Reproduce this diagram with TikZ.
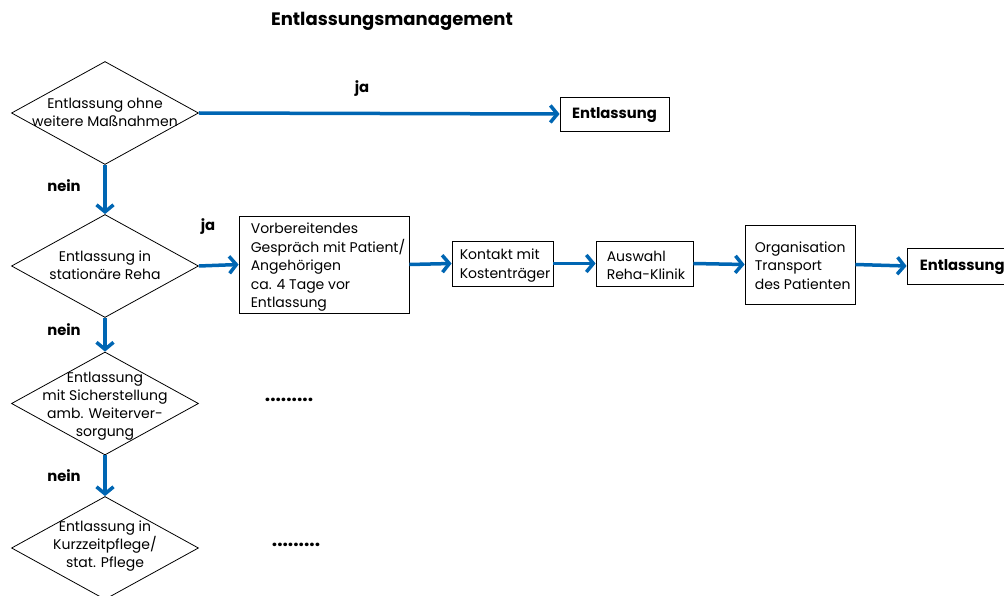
\documentclass[tikz,border=0pt]{standalone}
\usepackage{fontspec}
\setmainfont{Poppins}
\usetikzlibrary{shapes.geometric,arrows.meta}
\definecolor{flowblue}{RGB}{0,102,179}
\begin{document}
\begin{tikzpicture}[x=1pt,y=-1pt,
  dia/.style={draw, shape=diamond, minimum width=187pt, minimum height=103pt, inner sep=0pt, line width=0.8pt},
  dtxt/.style={align=center, font=\fontsize{14}{18}\selectfont, inner sep=0pt},
  boxx/.style={draw, line width=0.8pt, inner sep=0pt},
  btxt/.style={align=left, anchor=west, font=\fontsize{14}{18.5}\selectfont, inner sep=0pt},
  bold/.style={font=\bfseries\fontsize{14.8}{16}\selectfont, inner sep=0pt},
  flow/.style={draw=flowblue, line width=3.5pt, -{Straight Barb[length=7pt,width=17pt]}}]
\useasboundingbox (0,0) rectangle (1004,596);
\clip (0,0) rectangle (1004,596);
% title
\node[font=\bfseries\fontsize{18}{20}\selectfont] (title) at (392,21) {Entlassungsmanagement};
% diamonds
\node[dia] (d1) at (105,113) {};
\node[dtxt] (t1) at (105,112.5) {Entlassung ohne\\weitere Maßnahmen};
\node[dia] (d2) at (105,266) {};
\node[dtxt] (t2) at (105,265.5) {Entlassung in\\stationäre Reha};
\node[dia] (d3) at (105,403.5) {};
\node[dtxt] (t3) at (105,406) {Entlassung\\mit Sicherstellung\\amb. Weiterver-\\sorgung};
\node[dia] (d4) at (105,548) {};
\node[dtxt] (t4) at (105,546.5) {Entlassung in\\Kurzzeitpflege/\\stat. Pflege};
% top row
\node[boxx, minimum width=109pt, minimum height=34pt] (e1) at (614.5,114) {};
\node[bold] (e1t) at (614.5,115.5) {Entlassung};
% second row boxes
\node[boxx, minimum width=170pt, minimum height=97pt] (b1) at (324,264.5) {};
\node[btxt] (b1t) at ([xshift=12pt,yshift=-3pt]b1.west) {Vorbereitendes\\Gespräch mit Patient/\\Angehörigen\\ca. 4 Tage vor\\Entlassung};
\node[boxx, minimum width=101pt, minimum height=45pt] (b2) at (502.5,263.5) {};
\node[btxt] (b2t) at ([xshift=8pt,yshift=-2pt]b2.west) {Kontakt mit\\Kostenträger};
\node[boxx, minimum width=97pt, minimum height=45pt] (b3) at (644.5,263.5) {};
\node[btxt] (b3t) at ([xshift=11pt,yshift=-2pt]b3.west) {Auswahl\\Reha-Klinik};
\node[boxx, minimum width=110pt, minimum height=79pt] (b4) at (800,264.5) {};
\node[btxt] (b4t) at ([xshift=10pt,yshift=-1pt]b4.west) {Organisation\\Transport\\des Patienten};
\node[boxx, minimum width=110pt, minimum height=36pt] (b5) at (962,266) {};
\node[bold, anchor=west] (b5t) at ([xshift=13pt,yshift=-1.5pt]b5.west) {Entlassung};
% labels
\node[bold] (ja1) at (362,89) {ja};
\node[bold] (ja2) at (208,227) {ja};
\node[bold] (n1) at (64,186) {nein};
\node[bold] (n2) at (64,330) {nein};
\node[bold] (n3) at (64,476) {nein};
\node[font=\bfseries\fontsize{19}{20}\selectfont] (dots1) at (289,400) {.........};
\node[font=\bfseries\fontsize{19}{20}\selectfont] (dots2) at (296,545) {.........};
% connectors
\draw[flow] (d1.east) -- (e1.west);
\draw[flow] (d1.south) -- (d2.north);
\draw[flow] (d2.south) -- (d3.north);
\draw[flow] (d3.south) -- (d4.north);
\draw[flow] (d2.east) -- (b1.west);
\draw[flow] (b1.east) -- (b2.west);
\draw[flow] (b2.east) -- (b3.west);
\draw[flow] (b3.east) -- (b4.west);
\draw[flow] (b4.east) -- (b5.west);
\end{tikzpicture}
\end{document}
